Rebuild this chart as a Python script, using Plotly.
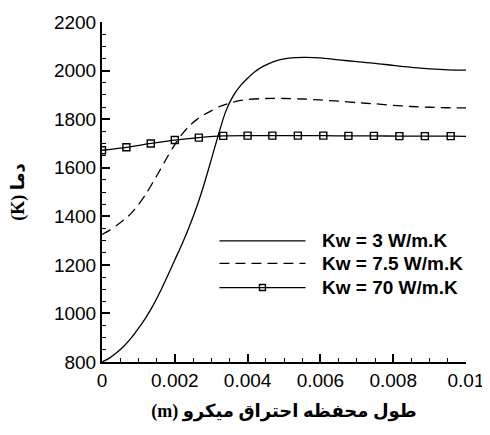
import plotly.graph_objects as go

# ---- data ----
x_kw3 = [0, 0.0002, 0.0004, 0.0006, 0.0008, 0.001, 0.0012, 0.0014, 0.0016, 0.0018,
         0.002, 0.0022, 0.0024, 0.0026, 0.0028, 0.003, 0.0032, 0.0034, 0.0036, 0.0038,
         0.004, 0.0042, 0.0044, 0.0046, 0.0048, 0.005, 0.0053, 0.0056, 0.006, 0.0065,
         0.007, 0.0075, 0.008, 0.0085, 0.009, 0.0095, 0.01]
t_kw3 = [800, 816, 838, 865, 898, 938, 982, 1032, 1090, 1154,
         1220, 1286, 1358, 1438, 1530, 1632, 1737, 1832, 1895, 1937,
         1968, 1995, 2015, 2030, 2041, 2048, 2053, 2054, 2052, 2044,
         2037, 2030, 2021, 2013, 2007, 2003, 2002]

x_kw75 = [0, 0.0002, 0.0004, 0.0006, 0.0008, 0.001, 0.0012, 0.0014, 0.0016, 0.0018,
          0.002, 0.0022, 0.0024, 0.0026, 0.0028, 0.003, 0.0032, 0.0034, 0.0036, 0.0038,
          0.004, 0.0045, 0.005, 0.0055, 0.006, 0.0065, 0.007, 0.0075, 0.008, 0.0085,
          0.009, 0.0095, 0.01]
t_kw75 = [1325, 1342, 1362, 1385, 1412, 1448, 1490, 1540, 1592, 1645,
          1695, 1738, 1772, 1798, 1818, 1834, 1850, 1861, 1870, 1877,
          1881, 1885, 1885, 1883, 1879, 1874, 1868, 1863, 1857, 1852,
          1849, 1847, 1846]

x_kw70 = [0, 0.00067, 0.00134, 0.002, 0.00266, 0.00333, 0.004, 0.00468, 0.00538,
          0.00608, 0.00677, 0.00747, 0.00817, 0.00887, 0.00958, 0.01]
t_kw70 = [1672, 1684, 1700, 1714, 1724, 1731, 1732, 1732, 1732,
          1732, 1731, 1731, 1730, 1730, 1730, 1729]

series_names = ["Kw = 3 W/m.K", "Kw = 7.5 W/m.K", "Kw = 70 W/m.K"]

x_ticks = [0, 0.002, 0.004, 0.006, 0.008, 0.01]
x_tick_text = ["0", "0.002", "0.004", "0.006", "0.008", "0.01"]
y_ticks = [800, 1000, 1200, 1400, 1600, 1800, 2000, 2200]
y_tick_text = ["800", "1000", "1200", "1400", "1600", "1800", "2000", "2200"]

# written in visual (left-to-right) order so SVG text shows the unit on the left
x_title = "(m) طول محفظه احتراق میکرو"
y_title = "(K) دما"

# ---- figure ----
fig = go.Figure()
fig.add_trace(go.Scatter(x=x_kw3, y=t_kw3, mode="lines", name=series_names[0],
                         line=dict(color="black", width=1.3, shape="spline",
                                   smoothing=0.8),
                         showlegend=False))
fig.add_trace(go.Scatter(x=x_kw75, y=t_kw75, mode="lines", name=series_names[1],
                         line=dict(color="black", width=1.3, dash="10px,6px",
                                   shape="spline", smoothing=0.8),
                         showlegend=False))
fig.add_trace(go.Scatter(x=x_kw70, y=t_kw70, mode="lines", name=series_names[2],
                         line=dict(color="black", width=1.3, shape="spline",
                                   smoothing=0.6),
                         showlegend=False))
fig.add_trace(go.Scatter(x=x_kw70[:-1], y=t_kw70[:-1], mode="markers",
                         name=series_names[2], showlegend=False,
                         marker=dict(symbol="square-open", size=7, color="black",
                                     line=dict(width=1.4, color="black"))))

axis_font = dict(family="Liberation Sans, Arial, sans-serif", size=19, color="black")
title_font = dict(family="Liberation Serif, DejaVu Sans, serif", size=18, color="black",
                  weight="bold")

fig.update_xaxes(range=[0, 0.0100001], tickvals=x_ticks, ticktext=x_tick_text,
                 ticks="inside", ticklen=8, tickwidth=1.5, tickcolor="black",
                 minor=dict(ticks="inside", ticklen=4, dtick=0.0005, tickcolor="black",
                            tickwidth=1),
                 showline=True, linecolor="black", linewidth=2, showgrid=False,
                 zeroline=False, tickfont=axis_font, ticklabelstandoff=0,
                 ticklabeloverflow="allow", automargin=False,
                 title=dict(text=x_title, font=title_font, standoff=15))
fig.update_yaxes(range=[800, 2200], tickvals=y_ticks, ticktext=y_tick_text,
                 ticks="inside", ticklen=8, tickwidth=1.5, tickcolor="black",
                 minor=dict(ticks="inside", ticklen=4, dtick=50, tickcolor="black",
                            tickwidth=1),
                 showline=True, linecolor="black", linewidth=2, showgrid=False,
                 zeroline=False, tickfont=axis_font, ticklabelstandoff=0,
                 ticklabeloverflow="allow", automargin=False,
                 title=dict(text=y_title, font=title_font, standoff=33))

# ---- custom legend (long line samples like the reference) ----
leg_rows = [0.356, 0.290, 0.219]
leg_x0, leg_x1, leg_text_x = 0.3226, 0.559, 0.5995
leg_dash = ["solid", "dash", "solid"]
shapes = []
for yy, dsh in zip(leg_rows, leg_dash):
    shapes.append(dict(type="line", xref="paper", yref="paper", x0=leg_x0, x1=leg_x1,
                       y0=yy, y1=yy, line=dict(color="black", width=1.3,
                                               dash="10px,6px" if dsh == "dash" else "solid")))
shapes.append(dict(type="rect", xref="paper", yref="paper", xsizemode="pixel",
                   ysizemode="pixel", xanchor=(leg_x0 + leg_x1) / 2, yanchor=leg_rows[2],
                   x0=-3, x1=3, y0=-3, y1=3, line=dict(color="black", width=1.4)))
annotations = []
for yy, nm in zip(leg_rows, series_names):
    annotations.append(dict(xref="paper", yref="paper", x=leg_text_x, y=yy, text=nm,
                            showarrow=False, xanchor="left", yanchor="middle",
                            font=dict(family="Liberation Sans, Arial, sans-serif",
                                      size=19, color="black", weight="bold")))

# the page body adds an 8px offset, so the figure is sized to fit inside the window
fig.update_layout(width=482, height=419, margin=dict(l=94, r=24, t=14, b=65),
                  plot_bgcolor="white", paper_bgcolor="white", showlegend=False,
                  shapes=shapes, annotations=annotations)

fig.write_html("out.html")
